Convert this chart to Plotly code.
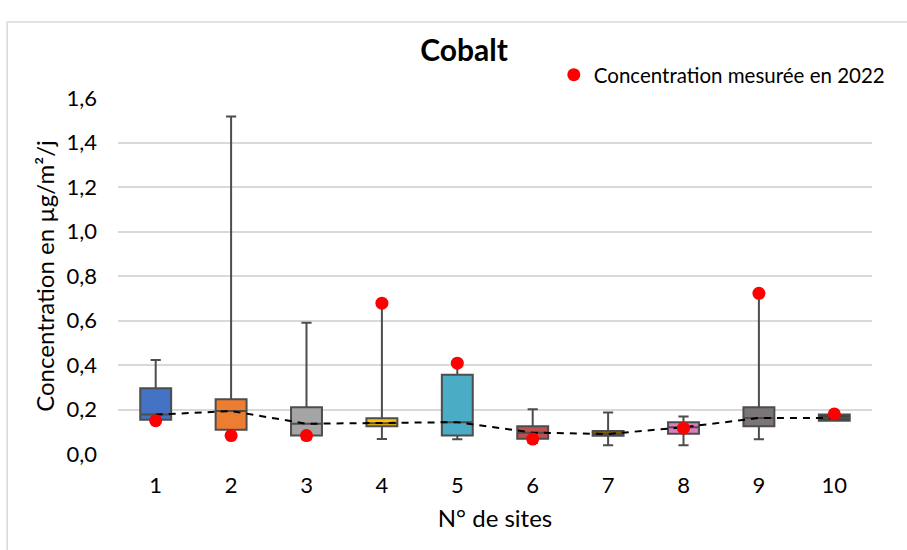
import plotly.graph_objects as go

# Sites and yearly statistics (µg/m²/j)
sites = [1, 2, 3, 4, 5, 6, 7, 8, 9, 10]
q1_vals = [0.154, 0.109, 0.083, 0.125, 0.083, 0.069, 0.082, 0.091, 0.125, 0.150]
median_vals = [0.177, 0.193, 0.136, 0.138, 0.143, 0.096, 0.090, 0.120, 0.162, 0.162]
q3_vals = [0.295, 0.246, 0.210, 0.161, 0.356, 0.125, 0.103, 0.143, 0.210, 0.177]
min_vals = [0.154, 0.109, 0.066, 0.067, 0.066, 0.049, 0.039, 0.039, 0.066, 0.150]
max_vals = [0.423, 1.517, 0.590, 0.678, 0.406, 0.201, 0.186, 0.168, 0.722, 0.177]
measured_2022 = [0.150, 0.083, 0.083, 0.678, 0.408, 0.067, None, 0.116, 0.722, 0.180]

box_colors = ["#4472C4", "#ED7D31", "#A5A5A5", "#FFC000", "#4BACC6",
              "#C0504D", "#7F6000", "#E07BC0", "#7B7675", "#404040"]

fig = go.Figure()

for i, s in enumerate(sites):
    fig.add_trace(go.Box(
        x=[s],
        q1=[q1_vals[i]], median=[median_vals[i]], q3=[q3_vals[i]],
        lowerfence=[min_vals[i]], upperfence=[max_vals[i]],
        width=0.41,
        whiskerwidth=0.33,
        fillcolor=box_colors[i],
        line=dict(color="#4d4d4d", width=2),
        showlegend=False,
        hoverinfo="skip",
    ))

# Median profile across sites
fig.add_trace(go.Scatter(
    x=sites, y=median_vals,
    mode="lines",
    line=dict(color="black", width=2, dash="7px,6px"),
    showlegend=False,
    hoverinfo="skip",
))

fig.add_trace(go.Scatter(
    x=sites, y=measured_2022,
    mode="markers",
    marker=dict(color="#FF0000", size=13),
    name="Concentration mesurée en 2022",
))

fig.update_layout(
    width=907, height=550,
    margin=dict(l=118, r=35, t=98, b=96),
    paper_bgcolor="white",
    plot_bgcolor="white",
    font=dict(family="Lato, sans-serif", color="#000000", size=20),
    separators=", ",
    title=dict(text="<b>Cobalt</b>", xref="paper", x=0.459, xanchor="center",
               y=0.909, yanchor="middle",
               font=dict(size=30, color="#000000")),
    legend=dict(x=0.578, y=1.065, xanchor="left", yanchor="middle",
                font=dict(size=20.5), bgcolor="rgba(0,0,0,0)", itemwidth=30),
    xaxis=dict(
        range=[0.5, 10.5],
        tickmode="array", tickvals=sites, ticktext=[str(s) for s in sites],
        showgrid=False, zeroline=False, showline=False, ticks="",
        ticklabelstandoff=16,
        title=dict(text="N° de sites", font=dict(size=24), standoff=13),
        tickfont=dict(size=22),
    ),
    yaxis=dict(
        range=[0, 1.6],
        tick0=0, dtick=0.2, tickformat=".1f",
        showgrid=True, gridcolor="#D9D9D9", gridwidth=2,
        zeroline=False, showline=False, ticks="",
        ticklabelstandoff=20,
        title=dict(text="Concentration en µg/m²/j", font=dict(size=24), standoff=5),
        tickfont=dict(size=22),
    ),
    shapes=[dict(type="rect", xref="paper", yref="paper",
                 x0=-0.147, x1=1.06, y0=-0.35, y1=1.2135,
                 line=dict(color="#D9D9D9", width=1.5), layer="below")],
)

fig.write_html("out.html")
